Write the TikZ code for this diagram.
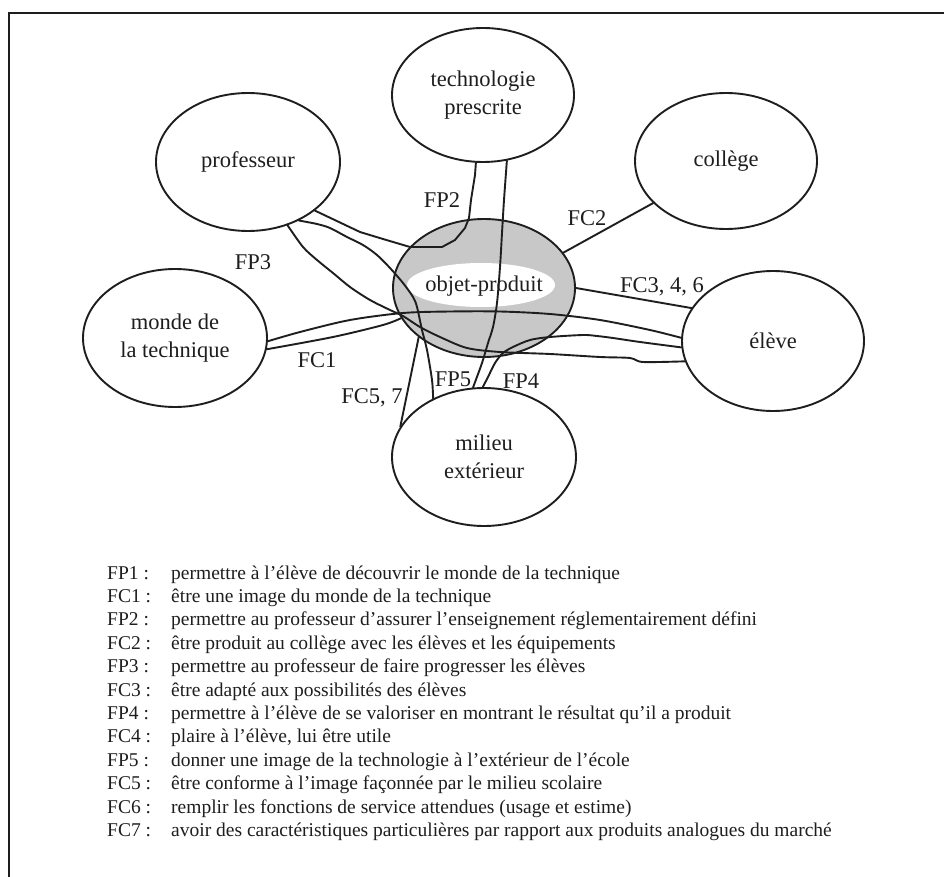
\documentclass[tikz,border=0pt]{standalone}
\usepackage{fontspec}
\setmainfont{Liberation Serif}
\usetikzlibrary{shapes.geometric}
\definecolor{ink}{HTML}{1E1E1E}
\definecolor{shade}{HTML}{C8C8C8}
\begin{document}
\begin{tikzpicture}[x=1pt,y=-1pt,
  ent/.style={ellipse, draw=ink, line width=1.9pt, inner sep=0pt, align=center,
    font=\fontsize{22.5}{27.5}\selectfont, text=ink},
  link/.style={draw=ink, line width=1.9pt, line join=round, line cap=round},
  lbl/.style={font=\fontsize{22.5}{27}\selectfont, text=ink, inner sep=0pt},
  keyname/.style={anchor=base west, font=\fontsize{19.5}{22}\selectfont, text=ink, inner sep=0pt},
  keytext/.style={anchor=base west, font=\fontsize{19.5}{22}\selectfont, text=ink, inner sep=0pt}]

\useasboundingbox (0,0) rectangle (944,877);
\fill[white] (0,0) rectangle (944,877);
% open frame
\draw[ink, line width=2.2pt] (9,880) -- (9,13) -- (950,13);

% central product
\node[ent, fill=shade, minimum width=182pt, minimum height=138pt] (obj) at (484,288) {};
\fill[white] (481,285) ellipse [x radius=74pt, y radius=22pt];
\node[lbl] (objtxt) at (484,286) {objet-produit};

% surrounding elements
\node[ent, minimum width=182pt, minimum height=134pt] (tech) at (483,95) {technologie\\prescrite};
\node[ent, minimum width=184pt, minimum height=138pt] (prof) at (248,162) {professeur};
\node[ent, minimum width=182pt, minimum height=136pt] (coll) at (726,161) {collège};
\node[ent, minimum width=184pt, minimum height=138pt] (monde) at (175,338) {monde de\\la technique};
\node[ent, minimum width=182pt, minimum height=140pt] (eleve) at (773,341) {élève};
\node[ent, minimum width=184pt, minimum height=138pt] (milieu) at (484,457) {milieu\\extérieur};

% FP2 : professeur - technologie prescrite
\draw[link] (prof.-36) -- (360,232) -- (383,239) -- (410,247) -- (442,247)
  -- (455,240) -- (465,228) -- (469,218) -- (471,200) -- (475,175) -- (tech.-96);
% FP5 : technologie prescrite - milieu extérieur
\draw[link] plot[smooth, tension=0.5] coordinates {(tech.-70) (504,200) (502,233) (500,267)
  (497,303) (493,327) (488,343) (482,363) (milieu.99)};
% professeur - milieu extérieur
\draw[link] plot[smooth, tension=0.5] coordinates {(prof.-49) (317,224) (330,228) (347,237)
  (363,245) (377,255) (390,268) (403,283) (413,297) (417,307) (422,330) (427,350) (432,380) (milieu.131)};
% FP3 : professeur - élève
\draw[link] plot[smooth, tension=0.5] coordinates {(prof.-58) (303,247) (317,260) (333,273)
  (350,287) (370,300) (390,310) (403,316) (420,327) (440,337) (467,348) (500,352) (550,354)
  (600,357) (630,358) (643,362) (eleve.-167)};
% FP1 : monde de la technique - élève
\draw[link] plot[smooth, tension=0.5] coordinates {(monde.-2) (300,332) (350,320) (403,313)
  (450,311.5) (500,311.5) (550,314) (600,320) (650,330) (eleve.178)};
% FC1 : objet-produit - monde de la technique
\draw[link] plot[smooth, tension=0.5] coordinates {(monde.-7) (333,337) (383,325) (obj.-160)};
% FP4 : milieu extérieur - élève
\draw[link] plot[smooth, tension=0.5] coordinates {(milieu.91) (488,377) (495,363) (503,353)
  (513,347) (530,340) (550,337) (583,335) (597,336) (613,338) (640,342) (eleve.-176)};
% FC2, FC3-4-6, FC5-7
\draw[link] (obj.24) -- (coll.-150);
\draw[link] (obj.0) -- (eleve.158);
\draw[link] (milieu.160) -- (obj.-143);

% function labels
\node[lbl] (lfp2) at (442,200) {FP2};
\node[lbl] (lfc2) at (587,218) {FC2};
\node[lbl] (lfp3) at (253,262) {FP3};
\node[lbl] (lfc3) at (662,287) {FC3, 4, 6};
\node[lbl] (lfc1) at (317,360) {FC1};
\node[lbl] (lfc5) at (372,398) {FC5, 7};
\node[lbl] (lfp5) at (453,379) {FP5};
\node[lbl] (lfp4) at (521,381) {FP4};

% key
\node[keyname] (k1)  at (107,579.0) {FP1 :};
\node[keytext] (t1)  at (171,579.0) {permettre à l’élève de découvrir le monde de la technique};
\node[keyname] (k2)  at (107,602.4) {FC1 :};
\node[keytext] (t2)  at (171,602.4) {être une image du monde de la technique};
\node[keyname] (k3)  at (107,625.8) {FP2 :};
\node[keytext] (t3)  at (171,625.8) {permettre au professeur d’assurer l’enseignement réglementairement défini};
\node[keyname] (k4)  at (107,649.2) {FC2 :};
\node[keytext] (t4)  at (171,649.2) {être produit au collège avec les élèves et les équipements};
\node[keyname] (k5)  at (107,672.6) {FP3 :};
\node[keytext] (t5)  at (171,672.6) {permettre au professeur de faire progresser les élèves};
\node[keyname] (k6)  at (107,696.0) {FC3 :};
\node[keytext] (t6)  at (171,696.0) {être adapté aux possibilités des élèves};
\node[keyname] (k7)  at (107,719.4) {FP4 :};
\node[keytext] (t7)  at (171,719.4) {permettre à l’élève de se valoriser en montrant le résultat qu’il a produit};
\node[keyname] (k8)  at (107,742.8) {FC4 :};
\node[keytext] (t8)  at (171,742.8) {plaire à l’élève, lui être utile};
\node[keyname] (k9)  at (107,766.2) {FP5 :};
\node[keytext] (t9)  at (171,766.2) {donner une image de la technologie à l’extérieur de l’école};
\node[keyname] (k10) at (107,789.6) {FC5 :};
\node[keytext] (t10) at (171,789.6) {être conforme à l’image façonnée par le milieu scolaire};
\node[keyname] (k11) at (107,813.0) {FC6 :};
\node[keytext] (t11) at (171,813.0) {remplir les fonctions de service attendues (usage et estime)};
\node[keyname] (k12) at (107,836.4) {FC7 :};
\node[keytext] (t12) at (171,836.4) {avoir des caractéristiques particulières par rapport aux produits analogues du marché};
\end{tikzpicture}
\end{document}
